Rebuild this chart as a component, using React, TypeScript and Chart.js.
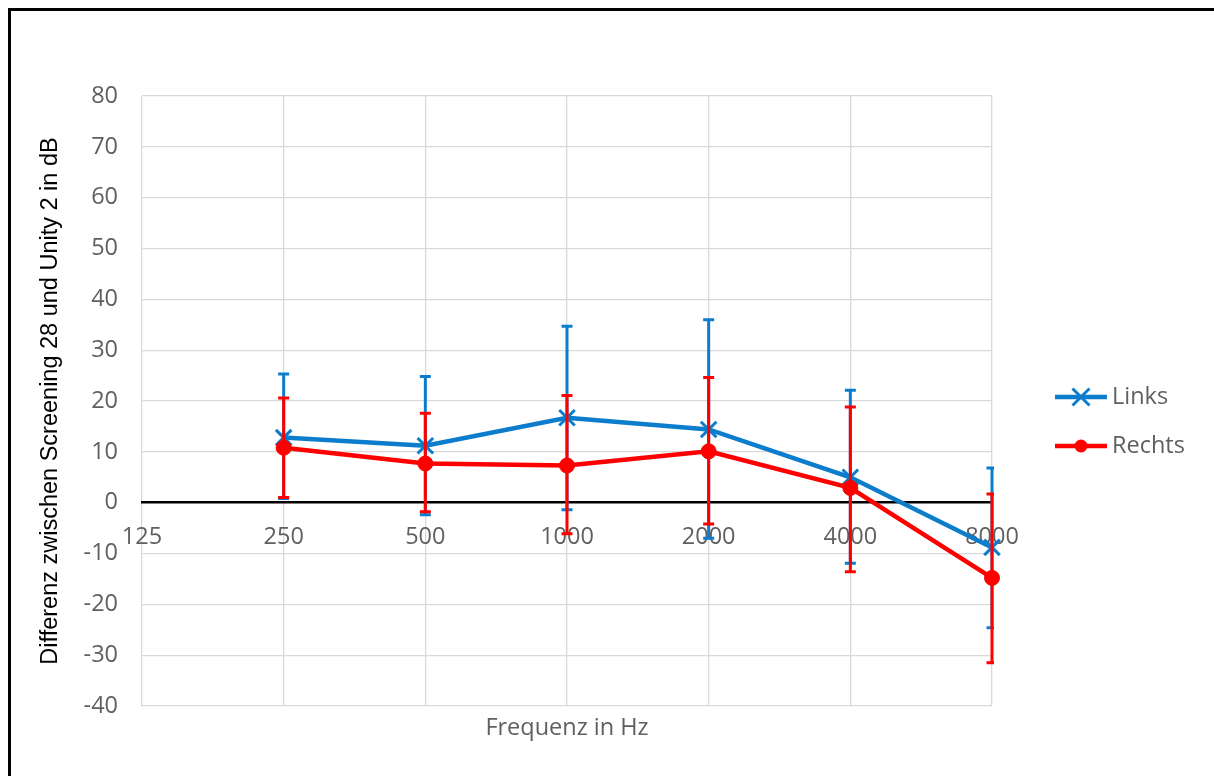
import React, { useEffect, useRef } from 'react';
import { Chart, registerables } from 'chart.js';

Chart.register(...registerables);

// ---- data ----
const frequencies = ['125', '250', '500', '1000', '2000', '4000', '8000'];
const linksMean = [null, 12.8, 11.2, 16.7, 14.4, 5.0, -8.8];
const linksUpper = [null, 25.3, 24.8, 34.7, 36.0, 22.1, 6.8];
const linksLower = [null, 0.8, -2.4, -1.4, -7.0, -11.9, -24.6];
const rechtsMean = [null, 10.8, 7.7, 7.3, 10.1, 2.9, -14.8];
const rechtsUpper = [null, 20.6, 17.6, 21.1, 24.6, 18.8, 1.7];
const rechtsLower = [null, 1.0, -1.8, -6.1, -4.2, -13.6, -31.5];
const yMin = -40;
const yMax = 80;
const yStep = 10;
const seriesNames = ['Links', 'Rechts'];
const xTitle = 'Frequenz in Hz';
const yTitle = 'Differenz zwischen Screening 28 und Unity 2 in dB';

// ---- styles ----
const BLUE = '#0b7dcc';
const RED = '#ff0000';
const LABEL_GRAY = '#5f5f5f';
const GRID = '#d9d9d9';
const LABEL_FONT = { family: "'Open Sans', sans-serif", size: 23.5 };

const errUpper = [linksUpper, rechtsUpper];
const errLower = [linksLower, rechtsLower];

const errorBarPlugin = {
  id: 'errorBars',
  afterDatasetDraw(chart: any, args: any) {
    const i = args.index;
    const up = errUpper[i];
    const lo = errLower[i];
    if (!up) return;
    const ds = chart.data.datasets[i];
    const { ctx, chartArea } = chart;
    const xs = chart.scales.x;
    const ys = chart.scales.y;
    ctx.save();
    ctx.beginPath();
    ctx.rect(chartArea.left - 2, chartArea.top - 2, chartArea.right - chartArea.left + 4, chartArea.bottom - chartArea.top + 4);
    ctx.clip();
    ctx.strokeStyle = ds.borderColor;
    ctx.lineWidth = 3;
    const cap = 5.5;
    for (let k = 0; k < up.length; k++) {
      if (up[k] == null || lo[k] == null) continue;
      const px = xs.getPixelForValue(k);
      const y1 = ys.getPixelForValue(up[k]);
      const y2 = ys.getPixelForValue(lo[k]);
      ctx.beginPath();
      ctx.moveTo(px, y1);
      ctx.lineTo(px, y2);
      ctx.moveTo(px - cap, y1);
      ctx.lineTo(px + cap, y1);
      ctx.moveTo(px - cap, y2);
      ctx.lineTo(px + cap, y2);
      ctx.stroke();
    }
    ctx.restore();
  },
};

const legendPlugin = {
  id: 'excelLegend',
  afterDraw(chart: any) {
    const { ctx, chartArea } = chart;
    const x0 = chartArea.right + 63;
    const lineLen = 52;
    const rows = [397, 446];
    chart.data.datasets.forEach((ds: any, i: number) => {
      const y = rows[i];
      ctx.save();
      ctx.strokeStyle = ds.borderColor;
      ctx.lineWidth = 4.5;
      ctx.beginPath();
      ctx.moveTo(x0, y);
      ctx.lineTo(x0 + lineLen, y);
      ctx.stroke();
      const cx = x0 + 26;
      if (ds.pointStyle === 'crossRot') {
        const h = 8.5;
        ctx.lineWidth = 3;
        ctx.beginPath();
        ctx.moveTo(cx - h, y - h);
        ctx.lineTo(cx + h, y + h);
        ctx.moveTo(cx - h, y + h);
        ctx.lineTo(cx + h, y - h);
        ctx.stroke();
      } else {
        ctx.fillStyle = ds.borderColor;
        ctx.beginPath();
        ctx.arc(cx, y, 6.5, 0, Math.PI * 2);
        ctx.fill();
      }
      ctx.fillStyle = LABEL_GRAY;
      ctx.font = `${LABEL_FONT.size}px ${LABEL_FONT.family}`;
      ctx.textBaseline = 'middle';
      ctx.textAlign = 'left';
      ctx.fillText(ds.label, x0 + 57, y);
      ctx.restore();
    });
  },
};

export default function App() {
  const canvasRef = useRef<HTMLCanvasElement | null>(null);

  useEffect(() => {
    const canvas = canvasRef.current;
    if (!canvas) return;
    const chart = new Chart(canvas, {
      type: 'line',
      data: {
        labels: frequencies,
        datasets: [
          {
            label: seriesNames[0],
            data: linksMean,
            borderColor: BLUE,
            backgroundColor: BLUE,
            borderWidth: 4.5,
            pointStyle: 'crossRot',
            pointRadius: 11,
            pointBorderWidth: 3,
            pointBorderColor: BLUE,
            pointBackgroundColor: BLUE,
            clip: false,
            order: 2,
            spanGaps: false,
          },
          {
            label: seriesNames[1],
            data: rechtsMean,
            borderColor: RED,
            backgroundColor: RED,
            borderWidth: 4.5,
            pointStyle: 'circle',
            pointRadius: 7.5,
            pointBorderWidth: 1,
            pointBorderColor: RED,
            pointBackgroundColor: RED,
            clip: false,
            order: 1,
            spanGaps: false,
          },
        ],
      },
      options: {
        responsive: false,
        animation: false,
        devicePixelRatio: 1,
        layout: { padding: { top: 96, right: 222, bottom: 0, left: 0 } },
        plugins: {
          legend: { display: false },
          tooltip: { enabled: false },
        },
        scales: {
          x: {
            type: 'category',
            position: { y: 0 },
            offset: false,
            grid: { color: GRID, lineWidth: 1.3, drawTicks: false },
            border: { display: true, color: '#000000', width: 2.5 },
            ticks: {
              color: LABEL_GRAY,
              font: LABEL_FONT,
              padding: 21,
              autoSkip: false,
              maxRotation: 0,
            },
          },
          xTitleAxis: {
            type: 'category',
            axis: 'x',
            position: 'bottom',
            labels: frequencies,
            offset: false,
            grid: { display: false, drawTicks: false },
            border: { display: false },
            ticks: { display: false },
            title: {
              display: true,
              text: xTitle,
              color: LABEL_GRAY,
              font: LABEL_FONT,
              padding: { top: 0, bottom: 34 },
            },
            afterFit: (s: any) => {
              s.height = 70;
            },
          },
          y: {
            type: 'linear',
            min: yMin,
            max: yMax,
            grid: {
              color: (c: any) => (c.tick && c.tick.value === 0 ? 'rgba(0,0,0,0)' : GRID),
              lineWidth: 1.3,
              drawTicks: false,
            },
            border: { display: false },
            ticks: {
              stepSize: yStep,
              color: LABEL_GRAY,
              font: LABEL_FONT,
              padding: 24,
            },
            title: {
              display: true,
              text: yTitle,
              color: '#000000',
              font: { family: "'Liberation Sans', Arial, sans-serif", size: 23.5 },
              padding: { top: 36, bottom: 0 },
            },
            afterFit: (s: any) => {
              s.width = 142;
            },
          },
        },
      } as any,
      plugins: [errorBarPlugin, legendPlugin],
    });
    return () => chart.destroy();
  }, []);

  return (
    <div
      style={{
        position: 'fixed',
        left: 0,
        top: 0,
        width: 1214,
        height: 776,
        overflow: 'hidden',
        background: '#ffffff',
      }}
    >
      <div
        style={{
          position: 'absolute',
          left: 8,
          top: 8,
          width: 1300,
          height: 900,
          border: '3px solid #000000',
          boxSizing: 'border-box',
        }}
      />
      <canvas
        ref={canvasRef}
        width={1214}
        height={776}
        style={{ position: 'absolute', left: 0, top: 0, display: 'block', width: 1214, height: 776 }}
      />
    </div>
  );
}
